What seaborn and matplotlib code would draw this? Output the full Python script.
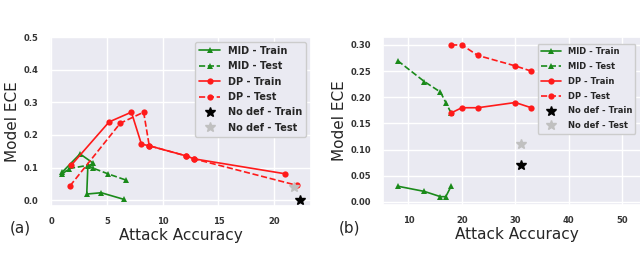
import matplotlib
matplotlib.use('Agg')
import matplotlib.pyplot as plt
import seaborn as sns

# panel (a)
a_mid_train_x = [1.0, 2.6, 3.8, 3.3, 3.2, 4.5, 6.5]
a_mid_train_y = [0.086, 0.142, 0.113, 0.105, 0.019, 0.023, 0.003]
a_mid_test_x = [1.0, 1.6, 3.3, 3.8, 5.1, 6.7]
a_mid_test_y = [0.080, 0.097, 0.107, 0.098, 0.081, 0.062]
a_dp_train_x = [1.8, 5.2, 7.2, 8.1, 8.8, 12.1, 12.8, 21.0]
a_dp_train_y = [0.107, 0.240, 0.270, 0.172, 0.167, 0.136, 0.127, 0.081]
a_dp_test_x = [1.7, 6.2, 8.3, 8.8, 12.1, 12.8, 22.0]
a_dp_test_y = [0.044, 0.236, 0.270, 0.167, 0.136, 0.127, 0.046]
a_nodef_train = (22.3, 0.001)
a_nodef_test = (21.8, 0.041)

# panel (b)
b_mid_train_x = [8, 13, 16, 17, 18]
b_mid_train_y = [0.03, 0.02, 0.01, 0.01, 0.03]
b_mid_test_x = [8, 13, 16, 17, 18]
b_mid_test_y = [0.27, 0.23, 0.21, 0.19, 0.17]
b_dp_train_x = [18, 20, 23, 30, 33]
b_dp_train_y = [0.17, 0.18, 0.18, 0.19, 0.18]
b_dp_test_x = [18, 20, 23, 30, 33]
b_dp_test_y = [0.30, 0.30, 0.28, 0.26, 0.25]
b_nodef_train = (31, 0.07)
b_nodef_test = (31, 0.11)

sns.set_theme(style='darkgrid')
plt.rcParams['font.family'] = ['DejaVu Sans']

fig = plt.figure(figsize=(6.4, 2.73), dpi=100)
ax1 = fig.add_axes([0.078, 0.245, 0.408, 0.619])
ax2 = fig.add_axes([0.598, 0.249, 0.42, 0.615])

green = '#1a8a1a'
red = '#ff1a1a'


def draw(ax, mtx, mty, mex, mey, dtx, dty, dex, dey, ntr, nte):
    sns.lineplot(x=mtx, y=mty, ax=ax, sort=False, color=green, marker='^',
                 markersize=4.5, markeredgewidth=0, lw=1.2, label='MID - Train')
    sns.lineplot(x=mex, y=mey, ax=ax, sort=False, color=green, marker='^',
                 markersize=4.5, markeredgewidth=0, lw=1.2, linestyle='--',
                 label='MID - Test')
    sns.lineplot(x=dtx, y=dty, ax=ax, sort=False, color=red, marker='o',
                 markersize=4.5, markeredgewidth=0, lw=1.2, label='DP - Train')
    sns.lineplot(x=dex, y=dey, ax=ax, sort=False, color=red, marker='o',
                 markersize=4.5, markeredgewidth=0, lw=1.2, linestyle='--',
                 label='DP - Test')
    ax.plot([ntr[0]], [ntr[1]], linestyle='none', marker='*', color='black',
            markersize=7, label='No def - Train')
    ax.plot([nte[0]], [nte[1]], linestyle='none', marker='*', color='#c0c0c0',
            markersize=7, label='No def - Test')
    ax.set_xlabel('Attack Accuracy', fontsize=11, labelpad=1)
    ax.set_ylabel('Model ECE', fontsize=11, labelpad=3)
    ax.tick_params(labelsize=6, pad=2)


draw(ax1, a_mid_train_x, a_mid_train_y, a_mid_test_x, a_mid_test_y,
     a_dp_train_x, a_dp_train_y, a_dp_test_x, a_dp_test_y,
     a_nodef_train, a_nodef_test)
ax1.set_xlim(-0.1, 23.3)
ax1.set_ylim(-0.018, 0.5)
ax1.set_xticks([0, 5, 10, 15, 20])
ax1.set_yticks([0.0, 0.1, 0.2, 0.3, 0.4, 0.5])
ax1.legend(loc='upper right', prop={'size': 7, 'weight': 'bold'},
           borderaxespad=0.5, handlelength=2.2, labelspacing=0.55,
           facecolor='#eaeaf2', framealpha=1)

draw(ax2, b_mid_train_x, b_mid_train_y, b_mid_test_x, b_mid_test_y,
     b_dp_train_x, b_dp_train_y, b_dp_test_x, b_dp_test_y,
     b_nodef_train, b_nodef_test)
ax2.set_xlim(5.2, 55.5)
ax2.set_ylim(-0.006, 0.315)
ax2.set_xticks([10, 20, 30, 40, 50])
ax2.set_yticks([0.0, 0.05, 0.10, 0.15, 0.20, 0.25, 0.30])
ax2.set_yticklabels(['0.00', '0.05', '0.10', '0.15', '0.20', '0.25', '0.30'])
ax2.legend(loc='upper right', prop={'size': 6, 'weight': 'bold'},
           bbox_to_anchor=(0.955, 0.985), handlelength=2.4, labelspacing=0.7,
           facecolor='#eaeaf2', framealpha=1)

for ax in (ax1, ax2):
    for lab in ax.get_xticklabels() + ax.get_yticklabels():
        lab.set_fontweight('bold')
        lab.set_color('#333333')

fig.text(0.015, 0.15, '(a)', fontsize=11)
fig.text(0.53, 0.15, '(b)', fontsize=11)

fig.savefig('out.png', dpi=100)
